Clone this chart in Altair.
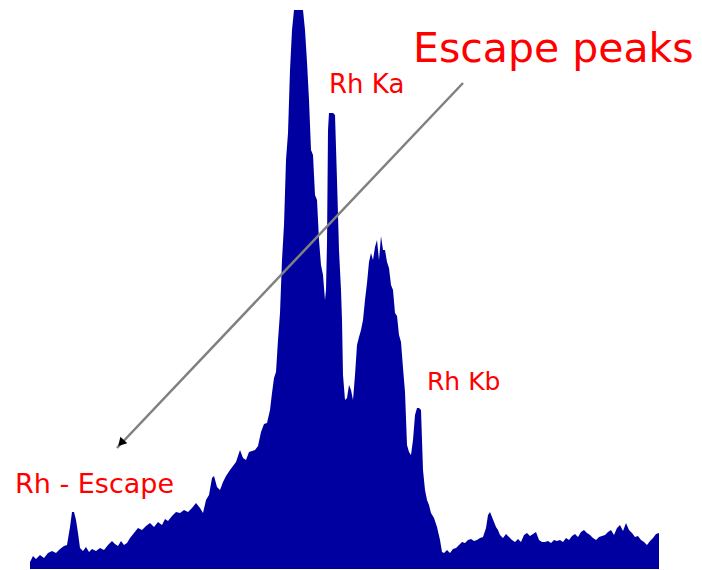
import altair as alt
import pandas as pd

# spectrum: channel positions and top-edge heights
channel = [30,33,36,40,44,48,52,56,60,64,67,70,72,74,76,78,80,83,86,89,92,96,100,104,108,112,115,118,121,124,127,
           130,134,138,142,146,150,154,158,162,165,168,172,176,180,184,188,192,196,200,203,206,209,212,214,217,220,
           223,226,230,233,236,240,243,246,249,252,255,258,261,264,267,270,272,274,276,278,280,282,284,286,288,290,
           292,294,297,300,303,305,307,309,311,313,315,317,319,321,323,325,326,327,328,329,331,333,335,337,339,341,
           342,343,345,347,349,351,353,355,357,359,361,363,365,367,369,371,373,375,377,379,381,383,385,387,389,391,
           393,395,397,399,401,403,405,407,409,411,413,415,417,419,421,423,425,427,429,431,434,437,440,442,444,447,
           450,453,456,459,462,465,468,471,474,477,480,483,486,488,490,492,494,496,498,500,503,506,509,512,515,518,
           521,524,527,530,533,536,539,542,545,548,551,554,557,560,563,566,569,572,575,578,581,584,587,590,593,596,
           599,602,605,608,611,614,617,620,623,626,629,632,635,638,641,644,647,650,653,656,659]
top_px = [562,556,559,555,558,553,551,553,549,546,545,527,512,512,520,533,548,551,547,552,549,551,548,550,545,541,544,546,541,545,543,
          538,533,528,530,526,523,527,522,525,519,521,516,512,513,510,512,508,503,508,513,500,495,478,476,487,490,
          482,476,470,466,462,450,458,460,452,451,450,446,432,424,423,410,393,378,372,340,313,260,225,160,133,70,
          30,10,10,10,10,30,62,100,150,155,195,200,240,265,275,300,290,243,130,113,113,113,115,180,250,290,
          320,375,400,398,385,390,400,375,345,337,330,320,300,283,262,253,260,247,240,260,236,250,250,262,268,285,
          290,313,316,335,342,368,392,445,452,455,440,415,408,408,410,470,490,500,505,513,518,527,540,552,553,550,
          553,549,548,545,542,543,540,539,541,540,538,537,528,515,512,517,522,527,530,535,538,534,537,540,542,539,
          542,535,533,536,534,532,540,542,542,541,543,540,541,540,542,538,540,536,534,537,532,530,533,535,538,540,
          537,536,535,532,530,535,528,525,531,523,530,533,537,536,540,542,545,541,538,534,533]
BASE = 569
counts = [BASE - t for t in top_px]

# annotations
label_text = ["Escape peaks", "Rh Ka", "Rh Kb", "Rh - Escape"]
label_x = [413, 329, 427, 15]
label_y = [BASE - 62, BASE - 93, BASE - 390, BASE - 493]
label_size = [41, 26, 25, 27]

arrow_x = [463]
arrow_y = [BASE - 83]
arrow_x2 = [117]
arrow_y2 = [BASE - 448]
head_x = [121]
head_y = [BASE - 443]

spec = pd.DataFrame({"ch": channel, "cnt": counts})
labels = pd.DataFrame({"t": label_text, "x": label_x, "y": label_y, "fs": label_size})
arrow = pd.DataFrame({"x": arrow_x, "y": arrow_y, "x2": arrow_x2, "y2": arrow_y2})
head = pd.DataFrame({"x": head_x, "y": head_y})

xs = alt.Scale(domain=[30, 660], nice=False, zero=False)
ys = alt.Scale(domain=[0, 561], nice=False)

area = alt.Chart(spec).mark_area(color="#0000A0", interpolate="linear").encode(
    x=alt.X("ch:Q", scale=xs, axis=None),
    y=alt.Y("cnt:Q", scale=ys, axis=None),
)

line = alt.Chart(arrow).mark_rule(color="#808080", strokeWidth=2.5).encode(
    x=alt.X("x:Q", scale=xs, axis=None),
    y=alt.Y("y:Q", scale=ys, axis=None),
    x2="x2:Q",
    y2="y2:Q",
)

arrowhead = alt.Chart(head).mark_point(shape="triangle-up", filled=True, color="#000000",
                                      opacity=1, size=90, angle=223.5).encode(
    x=alt.X("x:Q", scale=xs, axis=None),
    y=alt.Y("y:Q", scale=ys, axis=None),
)

texts = alt.Chart(labels).mark_text(align="left", baseline="alphabetic", color="#FF0000",
                                    font="DejaVu Sans").encode(
    x=alt.X("x:Q", scale=xs, axis=None),
    y=alt.Y("y:Q", scale=ys, axis=None),
    text="t:N",
    size=alt.Size("fs:Q", scale=None, legend=None),
)

chart = alt.layer(area, line, arrowhead, texts).properties(
    width=630, height=561,
    autosize=alt.AutoSizeParams(type="none"),
    padding={"left": 22, "top": 0, "right": 34, "bottom": 0},
    background="#FFFFFF",
).configure_view(strokeWidth=0)

chart.save("out.html", embed_options={"renderer": "svg", "actions": False})
